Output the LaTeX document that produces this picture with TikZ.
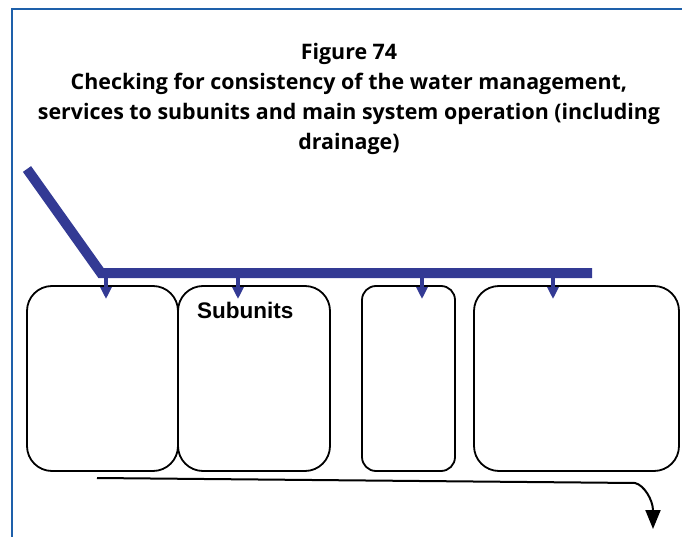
\documentclass[tikz,border=0pt]{standalone}
\usepackage{fontspec}
\setmainfont{Open Sans}
\newfontfamily\arialfont{Liberation Sans}
\usetikzlibrary{arrows.meta}
\definecolor{barblue}{RGB}{51,58,148}
\definecolor{frameblue}{RGB}{30,96,170}
\tikzset{
  bar/.style={line width=10pt, barblue, line join=miter},
  feed/.style={line width=3.5pt, barblue, -{Triangle[width=11pt,length=12pt]}},
  unit/.style={draw, line width=1.8pt, rounded corners=25pt, inner sep=0pt},
  flow/.style={line width=2pt, -{Triangle[width=15pt,length=19pt]}}
}
\begin{document}
\begin{tikzpicture}[x=1pt, y=-1pt]
      \useasboundingbox (0,0) rectangle (682,537);
      \draw[frameblue, line width=2pt] (682,9) -- (12,9) -- (12,537);

      \node [anchor=north, inner sep=0, align=center, font=\bfseries\fontsize{21.4}{30}\selectfont] (title) at (349,43)
        {Figure 74\\Checking for consistency of the water management,\\services to subunits and main system operation (including\\drainage)};

      \node [unit, minimum width=151pt, minimum height=185pt] (a) at (102.5,378.5) {};
      \node [unit, minimum width=152pt, minimum height=185pt] (b) at (254,378.5) {};
      \node [unit, rounded corners=14pt, minimum width=93pt, minimum height=185pt] (c) at (408.5,378.5) {};
      \node [unit, minimum width=205pt, minimum height=185pt] (d) at (576.5,378.5) {};
      \node [anchor=base west, inner sep=0, font=\arialfont\bfseries\fontsize{22.5}{26}\selectfont] (sub) at (197,318) {Subunits};

      \coordinate (s) at (27,169);
      \coordinate (k) at (101,273);
      \coordinate (e) at (592,273);
      \draw[bar] (s) -- (k) -- (e);

      \foreach \x/\n in {106/a, 238/b, 422/c, 553/d}
        \draw[feed] (\x,273) -- (\x,299);

      \coordinate (f0) at (97,478);
      \coordinate (f1) at (635,483);
      \coordinate (f2) at (653,529);
      \draw[flow] (f0) -- (f1) .. controls (644,485) and (653,500) .. (f2);
    \end{tikzpicture}
\end{document}
